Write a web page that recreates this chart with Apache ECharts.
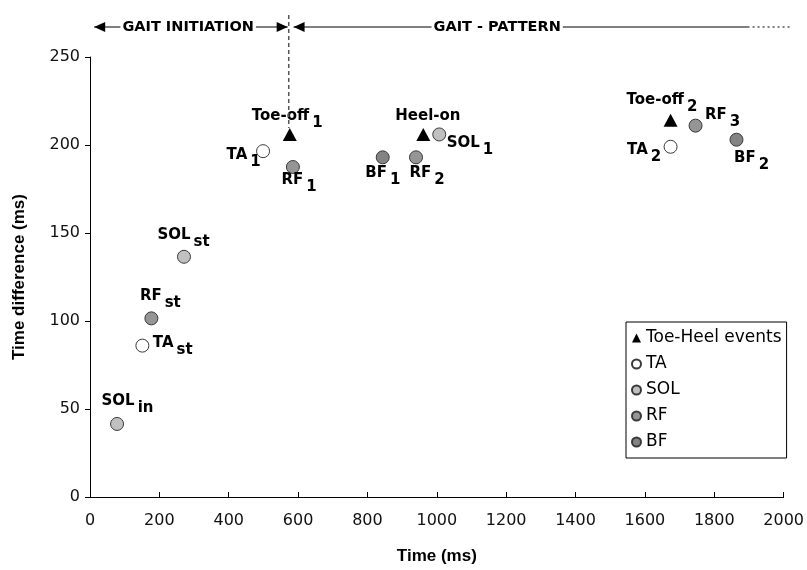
<!DOCTYPE html>
<html>
<head>
<meta charset="utf-8">
<script src="https://cdn.jsdelivr.net/npm/echarts@6/dist/echarts.min.js"></script>
<style>
  html, body { margin: 0; padding: 0; background: #fff; }
  #main { width: 807px; height: 570px; }
</style>
</head>
<body>
<div id="main"></div>
<script>
// ---- data (ms) ----
// Toe / heel events
const eventX = [576, 961, 1674];
const eventY = [206, 206, 214];
const eventLabels = [['Toe-off', '1'], ['Heel-on', ''], ['Toe-off', '2']];

// Tibialis anterior
const taX = [151, 499, 1674];
const taY = [86, 196.5, 199];
const taLabels = [['TA', 'st'], ['TA', '1'], ['TA', '2']];

// Soleus
const solX = [78, 271, 1007];
const solY = [41.5, 136.5, 206];
const solLabels = [['SOL', 'in'], ['SOL', 'st'], ['SOL', '1']];

// Rectus femoris
const rfX = [177, 585, 940, 1746];
const rfY = [101.5, 187.5, 193, 211];
const rfLabels = [['RF', 'st'], ['RF', '1'], ['RF', '2'], ['RF', '3']];

// Biceps femoris
const bfX = [844, 1864];
const bfY = [193, 203];
const bfLabels = [['BF', '1'], ['BF', '2']];

// Axis ticks
const xTicks = [0, 200, 400, 600, 800, 1000, 1200, 1400, 1600, 1800, 2000];
const yTicks = [0, 50, 100, 150, 200, 250];

// Gait phases drawn above the plot
const phaseNames = ['GAIT INITIATION', 'GAIT - PATTERN'];
const phaseFrom = [12, 587];
const phaseTo = [570, 2017];
const phaseTextAt = [283, 1174];
const phaseBoundary = 573;
const patternSolidEnd = 1896;

// ---- label placement: offset of label's top-left from the marker centre (px) ----
const eventLabelOffset = [[-38, -26], [-28, -26], [-44, -28]];
const taLabelOffset = [[11, -10], [-36, -3], [-43, -4]];
const solLabelOffset = [[-15, -30], [-26, -29], [8, 2]];
const rfLabelOffset = [[-11, -29], [-11, 6], [-6, 9], [10, -18]];
const bfLabelOffset = [[-17, 9], [-2, 11]];

const LABEL_FONT = 'DejaVu Sans';
const rich = {
  m: { fontFamily: LABEL_FONT, fontWeight: 'bold', fontSize: 15, lineHeight: 17, color: '#000', verticalAlign: 'top' },
  s: { fontFamily: LABEL_FONT, fontWeight: 'bold', fontSize: 15, lineHeight: 17, color: '#000', verticalAlign: 'top', padding: [7, 0, 0, 3] }
};

function buildData(xs, ys, labels, offsets, half) {
  return xs.map((x, i) => {
    const [main, sub] = labels[i];
    return {
      value: [x, ys[i]],
      label: {
        show: true,
        position: [offsets[i][0] + half[0], offsets[i][1] + half[1]],
        formatter: sub ? `{m|${main}}{s|${sub}}` : `{m|${main}}`,
        rich: rich
      }
    };
  });
}

const circleSize = 13;
const triSize = [14, 13];

function circleSeries(name, color, xs, ys, labels, offsets) {
  return {
    name: name,
    type: 'scatter',
    symbol: 'circle',
    symbolSize: circleSize,
    itemStyle: { color: color, borderColor: '#3a3a3a', borderWidth: 1, opacity: 1 },
    data: buildData(xs, ys, labels, offsets, [circleSize / 2, circleSize / 2]),
    z: 3
  };
}

const chart = echarts.init(document.getElementById('main'), null, { renderer: 'canvas' });

const option = {
  backgroundColor: '#fff',
  animation: false,
  textStyle: { fontFamily: 'DejaVu Sans' },
  grid: { left: 90, top: 57, right: 22, bottom: 70, containLabel: false },
  xAxis: {
    type: 'value',
    min: xTicks[0],
    max: xTicks[xTicks.length - 1],
    interval: xTicks[1] - xTicks[0],
    name: 'Time (ms)',
    nameLocation: 'middle',
    nameGap: 51,
    nameTextStyle: { fontFamily: 'Liberation Sans', fontWeight: 'bold', fontSize: 17, color: '#000' },
    axisLine: { lineStyle: { color: '#000', width: 1 } },
    axisTick: { show: true, inside: true, length: 5, lineStyle: { color: '#000' } },
    axisLabel: { fontFamily: 'DejaVu Sans', fontSize: 16, color: '#111', margin: 16, formatter: v => String(v) },
    splitLine: { show: false }
  },
  yAxis: {
    type: 'value',
    min: yTicks[0],
    max: yTicks[yTicks.length - 1],
    interval: yTicks[1] - yTicks[0],
    name: 'Time difference (ms)',
    nameLocation: 'middle',
    nameRotate: 90,
    nameGap: 62,
    nameTextStyle: { fontFamily: 'Liberation Sans', fontWeight: 'bold', fontSize: 17, color: '#000' },
    axisLine: { show: true, lineStyle: { color: '#000', width: 1 } },
    axisTick: { show: true, inside: false, length: 5, lineStyle: { color: '#000' } },
    axisLabel: { fontFamily: 'DejaVu Sans', fontSize: 16, color: '#111', margin: 10, formatter: v => String(v) },
    splitLine: { show: false }
  },
  legend: {
    orient: 'vertical',
    left: 626,
    top: 322,
    padding: [6, 5, 6, 5],
    itemGap: 6,
    itemWidth: 9,
    itemHeight: 9,
    borderColor: '#000',
    borderWidth: 1,
    backgroundColor: '#fff',
    textStyle: { fontFamily: 'DejaVu Sans', fontSize: 17, color: '#000', lineHeight: 20, padding: [0, 0, 0, 0] },
    data: ['Toe-Heel events', 'TA', 'SOL', 'RF', 'BF']
  },
  series: [
    {
      name: 'Toe-Heel events',
      type: 'scatter',
      symbol: 'triangle',
      symbolSize: triSize,
      itemStyle: { color: '#000', opacity: 1 },
      data: buildData(eventX, eventY, eventLabels, eventLabelOffset, [triSize[0] / 2, triSize[1] / 2]),
      z: 4
    },
    circleSeries('TA', '#ffffff', taX, taY, taLabels, taLabelOffset),
    circleSeries('SOL', '#c0c0c0', solX, solY, solLabels, solLabelOffset),
    circleSeries('RF', '#959595', rfX, rfY, rfLabels, rfLabelOffset),
    circleSeries('BF', '#838383', bfX, bfY, bfLabels, bfLabelOffset)
  ]
};

chart.setOption(option);

// ---- phase annotations above the plotting area ----
const px = v => chart.convertToPixel({ xAxisIndex: 0 }, v);
const arrowY = 27;
const lineStyle = { stroke: '#000', lineWidth: 1.2 };

function arrowHead(tipX, dir) {
  // dir = -1 points left, +1 points right
  return {
    type: 'polygon',
    shape: { points: [[tipX, arrowY], [tipX - dir * 11, arrowY - 5], [tipX - dir * 11, arrowY + 5]] },
    style: { fill: '#000' }
  };
}

function phaseText(i) {
  return {
    type: 'text',
    x: px(phaseTextAt[i]),
    y: arrowY,
    z: 10,
    style: {
      text: phaseNames[i],
      fontFamily: 'DejaVu Sans',
      fontWeight: 'bold',
      fontSize: 14.5,
      fill: '#000',
      align: 'center',
      verticalAlign: 'middle',
      backgroundColor: '#fff',
      padding: [0, 2]
    }
  };
}

const graphics = [
  // initiation: arrows at both ends
  { type: 'line', shape: { x1: px(phaseFrom[0]), y1: arrowY, x2: px(phaseTo[0]), y2: arrowY }, style: lineStyle },
  arrowHead(px(phaseFrom[0]), -1),
  arrowHead(px(phaseTo[0]), 1),
  phaseText(0),
  // pattern: arrow on the left, open (dotted) towards the right
  { type: 'line', shape: { x1: px(phaseFrom[1]), y1: arrowY, x2: px(patternSolidEnd), y2: arrowY }, style: lineStyle },
  { type: 'line', shape: { x1: px(patternSolidEnd), y1: arrowY, x2: px(phaseTo[1]), y2: arrowY }, style: { stroke: '#000', lineWidth: 1.2, lineDash: [2, 3] } },
  arrowHead(px(phaseFrom[1]), -1),
  phaseText(1),
  // boundary between the two phases
  { type: 'line', shape: { x1: px(phaseBoundary), y1: 15, x2: px(phaseBoundary), y2: 128 }, style: { stroke: '#555', lineWidth: 1.5, lineDash: [4, 3] } }
];

chart.setOption({ graphic: graphics.map(g => Object.assign({ z: 5 }, g)) });
</script>
</body>
</html>
